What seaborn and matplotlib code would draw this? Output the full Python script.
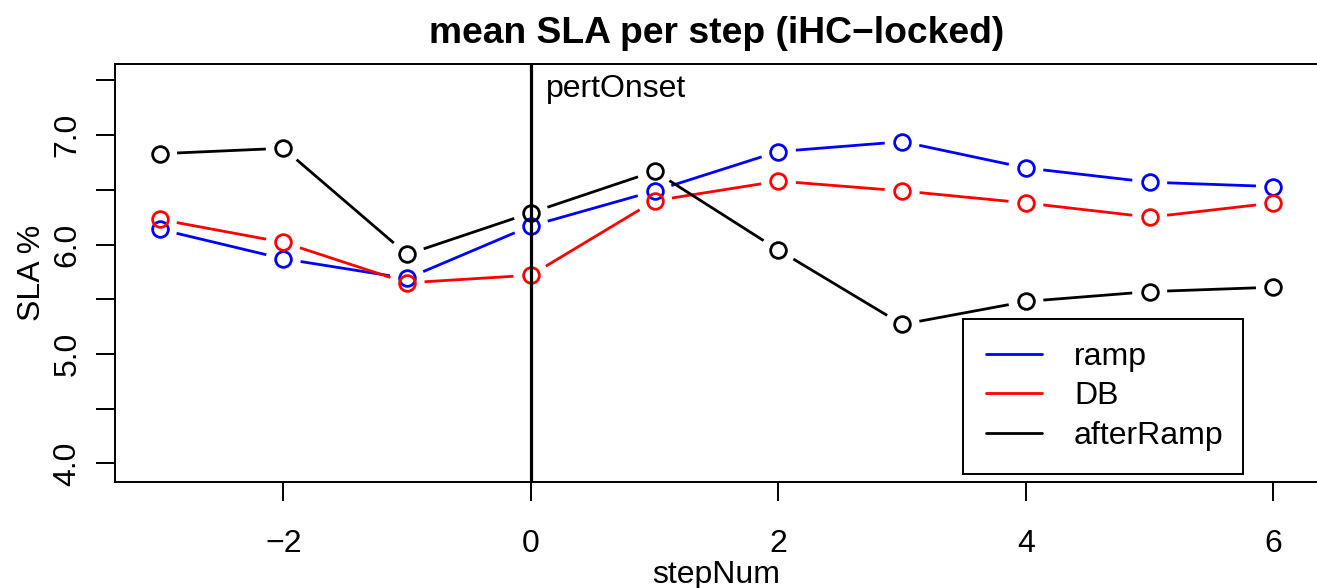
import numpy as np
import pandas as pd
import matplotlib
matplotlib.use("Agg")
import matplotlib.pyplot as plt
from matplotlib.lines import Line2D
import seaborn as sns

# mean SLA (%) per step, locked to iHC
step_num = [-3, -2, -1, 0, 1, 2, 3, 4, 5, 6]
sla_ramp = [6.14, 5.87, 5.69, 6.17, 6.49, 6.85, 6.94, 6.70, 6.57, 6.53]
sla_db = [6.23, 6.02, 5.65, 5.72, 6.40, 6.58, 6.49, 6.38, 6.25, 6.38]
sla_after_ramp = [6.83, 6.88, 5.91, 6.29, 6.67, 5.95, 5.27, 5.48, 5.57, 5.61]

series_names = ["ramp", "DB", "afterRamp"]
series_colors = ["#0000FF", "#FF0000", "#000000"]
y_ticks = [4.0, 4.5, 5.0, 5.5, 6.0, 6.5, 7.0, 7.5]
y_tick_labels = ["4.0", "", "5.0", "", "6.0", "", "7.0", ""]
x_ticks = [-2, 0, 2, 4, 6]
onset_step = 0

df = pd.DataFrame({
    "stepNum": step_num * 3,
    "SLA": sla_ramp + sla_db + sla_after_ramp,
    "group": sum([[n] * len(step_num) for n in series_names], []),
})

sns.set_style("white")
plt.rcParams["font.family"] = ["Liberation Sans", "DejaVu Sans"]
plt.rcParams["text.color"] = "black"
plt.rcParams["axes.labelcolor"] = "black"

FS = 23
W, H, DPI = 1317, 588, 100
fig = plt.figure(figsize=(W / DPI, H / DPI), dpi=DPI)
ax = fig.add_axes([115 / W, 1 - 482 / H, 1203 / W, 418 / H])
ax.set_xlim(-3.36, 6.36)
ax.set_ylim(3.83, 7.65)

LW = 2.0
GAP_PX = 17.5


def gapped_segments(axis, xs, ys, gap):
    """Segments between consecutive points, trimmed around each point marker."""
    pts = axis.transData.transform(np.column_stack([xs, ys]))
    inv = axis.transData.inverted()
    out = []
    for p0, p1 in zip(pts[:-1], pts[1:]):
        d = p1 - p0
        length = np.hypot(*d)
        if length <= 2 * gap:
            continue
        u = d / length
        out.append(inv.transform([p0 + u * gap, p1 - u * gap]))
    return out


for name, color in zip(series_names, series_colors):
    sub = df[df["group"] == name]
    for seg in gapped_segments(ax, sub["stepNum"].values, sub["SLA"].values, GAP_PX):
        ax.plot(seg[:, 0], seg[:, 1], color=color, lw=LW, solid_capstyle="butt")
    sns.lineplot(data=sub, x="stepNum", y="SLA", ax=ax, color=color,
                 linestyle="none", marker="o", markersize=11.3,
                 markerfacecolor="none", markeredgecolor=color,
                 markeredgewidth=LW, errorbar=None, sort=False, legend=False)

ax.axvline(onset_step, color="black", lw=2.3, zorder=5)
ax.annotate("pertOnset", xy=(onset_step, 7.42), xytext=(15, 0),
            textcoords="offset pixels", ha="left", va="center", fontsize=FS)

# axes frame and ticks
for sp in ax.spines.values():
    sp.set_visible(True)
    sp.set_color("black")
    sp.set_linewidth(1.4)
ax.set_xticks(x_ticks)
ax.set_xticklabels([str(t).replace("-", "\u2212") for t in x_ticks])
ax.set_yticks(y_ticks)
ax.set_yticklabels(y_tick_labels)
ax.tick_params(axis="both", direction="out", length=13.5, width=1.4,
               color="black", labelsize=FS, labelcolor="black",
               bottom=True, left=True, top=False, right=False)
ax.tick_params(axis="x", pad=20)
ax.tick_params(axis="y", pad=10)
plt.setp(ax.get_yticklabels(), rotation=90, va="center")
ax.set_xlabel("stepNum", fontsize=FS, labelpad=1)
ax.set_ylabel("SLA %", fontsize=FS, labelpad=4)
ax.set_title("mean SLA per step (iHC\u2212locked)", fontsize=26.8,
             fontweight="bold", pad=15, color="black")
ax.grid(False)

handles = [Line2D([0], [0], color=c, lw=LW) for c in series_colors]
leg = ax.legend(handles, series_names, loc="lower left",
                bbox_to_anchor=(0.705, 0.0191, 0.2327, 0.3685), mode="expand",
                fontsize=FS, frameon=True, fancybox=False, framealpha=1,
                edgecolor="black", borderpad=0.72, labelspacing=0.3,
                handlelength=1.75, handletextpad=1.0, borderaxespad=0)
leg.get_frame().set_linewidth(1.4)
leg.set_zorder(6)
for t in leg.get_texts():
    t.set_color("black")

fig.savefig("out.png", dpi=DPI, facecolor="white")
